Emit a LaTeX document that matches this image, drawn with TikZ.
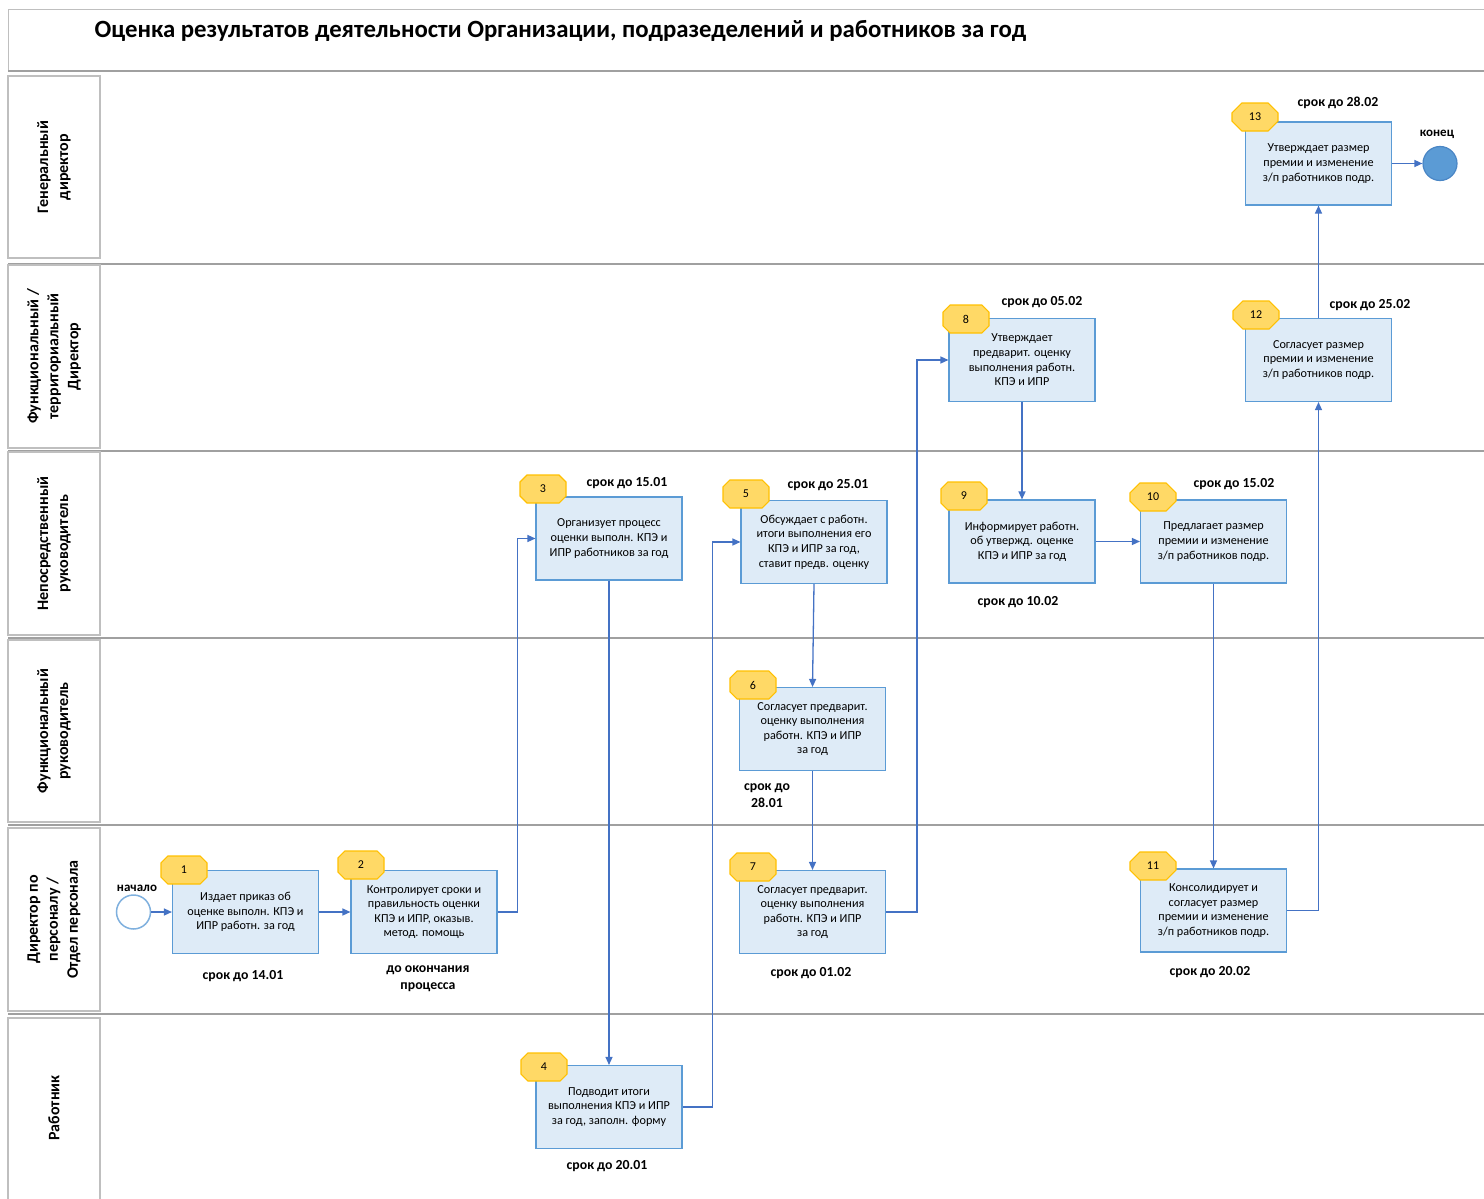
\documentclass[tikz,border=0pt]{standalone}
\usepackage{fontspec}
\setmainfont{Carlito}
\usetikzlibrary{shapes.misc,arrows.meta}
\definecolor{boxfill}{HTML}{DEEBF7}
\definecolor{boxline}{HTML}{5B9BD5}
\definecolor{badgefill}{HTML}{FFD966}
\definecolor{badgeline}{HTML}{FFC000}
\definecolor{arrowc}{HTML}{4472C4}
\definecolor{lanegray}{HTML}{A0A0A0}
\definecolor{labgray}{HTML}{BFBFBF}
\definecolor{startline}{HTML}{7FB0DE}
\definecolor{endfill}{HTML}{5B9BD5}
\definecolor{endline}{HTML}{4A86C5}
\tikzset{
  task/.style={draw=boxline, fill=boxfill, line width=1.1pt, minimum width=146pt,
    minimum height=83pt, align=center, inner sep=2pt,
    font=\fontsize{12.2}{14.6}\selectfont},
  badge/.style={chamfered rectangle, chamfered rectangle sep=6pt, draw=badgeline,
    fill=badgefill, line width=1.1pt, minimum width=46pt, minimum height=28pt,
    inner sep=0pt, font=\fontsize{12}{14}\selectfont},
  deadline/.style={align=center, font=\bfseries\fontsize{13.8}{17}\selectfont},
  lanelabel/.style={draw=labgray, line width=1.2pt, minimum width=92pt, align=center},
  lanetext/.style={rotate=90, align=center, font=\bfseries\fontsize{16}{20}\selectfont},
  lane/.style={draw=lanegray, line width=1.5pt},
  flow/.style={draw=arrowc, line width=1.3pt, -{Triangle[length=8pt,width=7pt]}},
}
\begin{document}
\begin{tikzpicture}[x=1pt,y=-1pt]
\useasboundingbox (0,0) rectangle (1484,1199);
% title frame
\draw[labgray, line width=1pt] (1484,10) -- (8,10) -- (8,71);
\node[anchor=west, font=\bfseries\fontsize{24.8}{30}\selectfont] (title) at (91,31)
  {Оценка результатов деятельности Организации, подразеделений и работников за год};
% lane separators
\foreach \yy in {71,264,451,638,825,1014} \draw[lane] (8,\yy) -- (1484,\yy);
% lane labels
\node[lanelabel, minimum height=182pt] (L1) at (54,167) {};
\node[lanetext] (L1t) at (L1) {Генеральный\\директор};
\node[lanelabel, minimum height=183pt] (L2) at (54,356.5) {};
\node[lanetext] (L2t) at (L2) {Функциональный /\\территориальный\\Директор};
\node[lanelabel, minimum height=183pt] (L3) at (54,543.5) {};
\node[lanetext] (L3t) at (L3) {Непосредственный\\руководитель};
\node[lanelabel, minimum height=182pt] (L4) at (54,731) {};
\node[lanetext] (L4t) at (L4) {Функциональный\\руководитель};
\node[lanelabel, minimum height=183pt] (L5) at (54,919.5) {};
\node[lanetext] (L5t) at (L5) {Директор по\\персоналу /\\Отдел персонала};
\node[lanelabel, minimum height=190pt] (L6) at (54,1113) {};
\node[lanetext] (L6t) at (54,1108) {Работник};
% tasks
\node[task] (b1) at (245.5,912) {Издает приказ об\\оценке выполн. КПЭ и\\ИПР работн. за год};
\node[task] (b2) at (424,912) {Контролирует сроки и\\правильность оценки\\КПЭ и ИПР, оказыв.\\метод. помощь};
\node[task] (b3) at (609,538.5) {Организует процесс\\оценки выполн. КПЭ и\\ИПР работников за год};
\node[task] (b4) at (609,1107) {Подводит итоги\\выполнения КПЭ и ИПР\\за год, заполн. форму};
\node[task] (b5) at (814,542) {Обсуждает с работн.\\итоги выполнения его\\КПЭ и ИПР за год,\\ставит предв. оценку};
\node[task] (b6) at (812.5,729) {Согласует предварит.\\оценку выполнения\\работн. КПЭ и ИПР\\за год};
\node[task] (b7) at (812.5,912) {Согласует предварит.\\оценку выполнения\\работн. КПЭ и ИПР\\за год};
\node[task] (b8) at (1022,360) {Утверждает\\предварит. оценку\\выполнения работн.\\КПЭ и ИПР};
\node[task] (b9) at (1022,541.5) {Информирует работн.\\об утвержд. оценке\\КПЭ и ИПР за год};
\node[task] (b10) at (1213.5,541.5) {Предлагает размер\\премии и изменение\\з/п работников подр.};
\node[task] (b11) at (1213.5,910.5) {Консолидирует и\\согласует размер\\премии и изменение\\з/п работников подр.};
\node[task] (b12) at (1318.5,360) {Согласует размер\\премии и изменение\\з/п работников подр.};
\node[task] (b13) at (1318.5,163.5) {Утверждает размер\\премии и изменение\\з/п работников подр.};
% badges
\node[badge] (n1) at (184,870) {1};
\node[badge] (n2) at (361,865) {2};
\node[badge] (n3) at (543,489) {3};
\node[badge] (n4) at (544,1067) {4};
\node[badge] (n5) at (746,494) {5};
\node[badge] (n6) at (753,685) {6};
\node[badge] (n7) at (753,867) {7};
\node[badge] (n8) at (966,319) {8};
\node[badge] (n9) at (964,496) {9};
\node[badge] (n10) at (1153,497) {10};
\node[badge] (n11) at (1153,866) {11};
\node[badge] (n12) at (1256,315) {12};
\node[badge] (n13) at (1255,117) {13};
% start / end
\node[circle, draw=startline, fill=white, line width=1.5pt, minimum size=34pt, inner sep=0pt] (start) at (133.5,912) {};
\node[font=\bfseries\fontsize{13}{15}\selectfont] (startlab) at (137,888) {начало};
\node[circle, draw=endline, fill=endfill, line width=1.2pt, minimum size=34pt, inner sep=0pt] (end) at (1440,163.5) {};
\node[font=\bfseries\fontsize{13}{15}\selectfont] (endlab) at (1437,134) {конец};
% deadlines
\node[deadline] (d1) at (243,976) {срок до 14.01};
\node[deadline] (d2) at (428,979) {до окончания\\процесса};
\node[deadline] (d3) at (627,483) {срок до 15.01};
\node[deadline] (d4) at (607,1166) {срок до 20.01};
\node[deadline] (d5) at (828,485) {срок до 25.01};
\node[deadline] (d6) at (767,796) {срок до\\28.01};
\node[deadline] (d7) at (811,973) {срок до 01.02};
\node[deadline] (d8) at (1042,302) {срок до 05.02};
\node[deadline] (d9) at (1018,602) {срок до 10.02};
\node[deadline] (d10) at (1234,484) {срок до 15.02};
\node[deadline] (d11) at (1210,972) {срок до 20.02};
\node[deadline] (d12) at (1370,305) {срок до 25.02};
\node[deadline] (d13) at (1338,103) {срок до 28.02};
% flows
\draw[flow] (start.east) -- (b1.west);
\draw[flow] (b1.east) -- (b2.west);
\draw[flow] (b2.east) -- ++(20,0) |- (b3.west);
\draw[flow] (b3.south) -- (b4.north);
\draw[flow] (b4.east) -- ++(30,0) |- (b5.west);
\draw[flow] (b5.south) -- (b6.north);
\draw[flow] (b6.south) -- (b7.north);
\draw[flow] (b7.east) -- ++(31,0) |- (b8.west);
\draw[flow] (b8.south) -- (b9.north);
\draw[flow] (b9.east) -- (b10.west);
\draw[flow] (b10.south) -- (b11.north);
\draw[flow] (b11.east) -| (b12.south);
\draw[flow] (b12.north) -- (b13.south);
\draw[flow] (b13.east) -- (end.west);
\end{tikzpicture}
\end{document}
